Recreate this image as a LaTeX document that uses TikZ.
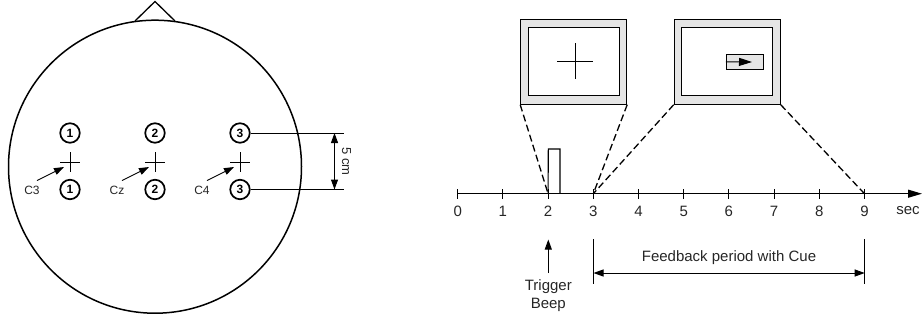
\documentclass[tikz,border=0pt]{standalone}
\usepackage{fontspec}
\setmainfont{Liberation Sans}
\usetikzlibrary{arrows.meta}
\definecolor{framegray}{gray}{0.9}
\tikzset{
  electrode/.style={draw, circle, line width=1.7pt, minimum size=19.5pt, inner sep=0pt, font=\fontsize{12}{14}\selectfont\bfseries},
  lbl/.style={inner sep=0pt, font=\fontsize{15}{18}\selectfont, text=black!85},
  smalllbl/.style={inner sep=0pt, font=\fontsize{12}{14}\selectfont, text=black!85},
  arr/.style={-{Triangle[length=10pt,width=7pt]}, line width=0.9pt},
  dbl/.style={{Triangle[length=10pt,width=7pt]}-{Triangle[length=10pt,width=7pt]}, line width=1pt},
  frame/.style={draw, line width=1pt, fill=framegray, minimum width=106pt, minimum height=85pt, inner sep=0pt},
  screen/.style={draw, line width=1pt, fill=white, minimum width=91pt, minimum height=67.5pt, inner sep=0pt},
  conn/.style={line width=1.3pt, dash pattern=on 7pt off 3.5pt}
}
\begin{document}
\begin{tikzpicture}[x=1pt, y=-1pt]
  \useasboundingbox (0,0) rectangle (924,322);
  % head
  \draw[line width=1.3pt] (135,21) -- (155,1.5) -- (175,21);
  \node[draw, circle, line width=1.5pt, minimum size=293pt, inner sep=0pt] (head) at (155,166.7) {};
  % electrodes
  \foreach \n/\x/\lab in {1/70/C3, 2/155/Cz, 3/240/C4} {
    \node[electrode] (top\n) at (\x,133) {\n};
    \node[electrode] (bot\n) at (\x,189.5) {\n};
    \coordinate (cw\n) at (\x-10,162);
    \coordinate (ce\n) at (\x+10,162);
    \coordinate (cn\n) at (\x,152);
    \coordinate (cs\n) at (\x,172);
    \draw[line width=0.8pt] (cw\n) -- (ce\n);
    \draw[line width=0.8pt] (cn\n) -- (cs\n);
    \node[smalllbl] (name\n) at (\x-38,190) {\lab};
    \coordinate (from\n) at (\x-33,180.5);
    \coordinate (to\n) at (\x-6,167);
    \draw[arr] (from\n) -- (to\n);
  }
  % distance
  \coordinate (dimtop) at (344,133);
  \coordinate (dimbot) at (344,189.5);
  \coordinate (dimup) at (334.5,133);
  \coordinate (dimdown) at (334.5,189.5);
  \draw[line width=1pt] (top3) -- (dimtop);
  \draw[line width=1pt] (bot3) -- (dimbot);
  \draw[dbl] (dimup) -- (dimdown);
  \node[smalllbl, rotate=-90, font=\fontsize{13}{15}\selectfont] (dist) at (346.5,161.5) {5 cm};
  % time axis
  \coordinate (axisstart) at (457.7,193.7);
  \coordinate (axisend) at (922,193.7);
  \draw[line width=1.1pt, -{Triangle[length=14pt,width=8pt]}] (axisstart) -- (axisend);
  \foreach \t in {0,...,9} {
    \coordinate (t\t) at (457.7+45.2*\t,193.7);
    \draw[line width=0.9pt] ([yshift=-5pt]t\t) -- ([yshift=5pt]t\t);
    \node[lbl] (tl\t) at (457.7+45.2*\t,211.7) {\t};
  }
  \node[lbl] (sec) at (908,211) {sec};
  % beep
  \draw[line width=1.1pt] (t2) -- (548.3,149) -- (560,149) -- (560,193.7);
  \coordinate (beeptip) at (548.3,239.5);
  \node[lbl, align=center] (beep) at (548.3,295.5) {Trigger\\Beep};
  \draw[arr] (548.3,273) -- (beeptip);
  % screens
  \node[frame] (frameA) at (573.7,61.7) {};
  \node[screen] (screenA) at (573.8,61.7) {};
  \draw[line width=1pt] (557,61) -- (593,61);
  \draw[line width=1pt] (575,43) -- (575,79);
  \node[frame] (frameB) at (727.2,61.7) {};
  \node[screen] (screenB) at (727,61.7) {};
  \node[draw, line width=1pt, fill=framegray, minimum width=37pt, minimum height=15pt, inner sep=0pt] (cue) at (744.8,61.8) {};
  \coordinate (cuetip) at (752,62);
  \draw[line width=0.9pt, -{Triangle[length=13pt,width=8pt]}] (cue.west) -- (cuetip);
  % zoom lines
  \draw[conn] (frameA.south west) -- (t2);
  \draw[conn] (frameA.south east) -- (t3);
  \draw[conn] (frameB.south west) -- (t3);
  \draw[conn] (frameB.south east) -- (t9);
  % feedback period
  \coordinate (fa) at (593.5,239);
  \coordinate (fb) at (593.5,284);
  \coordinate (fc) at (864.7,239);
  \coordinate (fd) at (864.7,284);
  \coordinate (fl) at (593.5,273);
  \coordinate (fr) at (864.7,273);
  \draw[line width=0.9pt] (fa) -- (fb);
  \draw[line width=0.9pt] (fc) -- (fd);
  \draw[dbl] (fl) -- (fr);
  \node[lbl] (period) at (729,258) {Feedback period with Cue};
\end{tikzpicture}
\end{document}
